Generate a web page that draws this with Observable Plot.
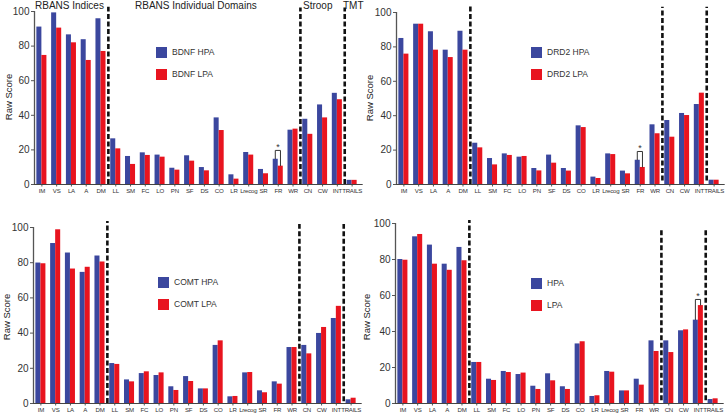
<!DOCTYPE html>
<html><head><meta charset="utf-8">
<script src="https://cdn.jsdelivr.net/npm/d3@7"></script>
<script src="https://cdn.jsdelivr.net/npm/@observablehq/plot@0.6"></script>
<style>
body{margin:0;background:#fff;}
#fig{position:relative;width:727px;height:415px;overflow:hidden;font-family:"Liberation Sans",Arial,Helvetica,sans-serif;color:#222;background:#fff;}
.panel{position:absolute;}
.title{position:absolute;font-size:10px;line-height:10px;white-space:nowrap;color:#222;}
.ylab{position:absolute;font-size:9.5px;line-height:10px;white-space:nowrap;color:#222;transform:translate(-50%,-50%) rotate(-90deg);}
.leg{position:absolute;font-size:8.5px;line-height:11px;white-space:nowrap;color:#333;}
.sw{display:inline-block;width:11px;height:11px;vertical-align:top;margin-right:5px;}
#fig g[aria-label="x-axis tick label"]{letter-spacing:-0.25px;}
</style></head>
<body>
<div id="fig"></div>
<script>
// ---------- data ----------
const cats = ["IM","VS","LA","A","DM","LL","SM","FC","LO","PN","SF","DS","CO","LR","Lrecog","SR","FR","WR","CN","CW","INT","TRAILS"];

const bdnfHPA = [91, 99.2, 86.5, 83.7, 95.8, 26.4, 16.2, 18.3, 17, 9.4, 16.6, 9.8, 38.5, 5.6, 18.5, 8.7, 14.6, 31.4, 37.7, 46, 52.7, 2.4];
const bdnfLPA = [74.6, 90.4, 81.9, 71.7, 76.9, 20.6, 11.6, 16.8, 15.8, 8.3, 13.5, 7.9, 31.2, 3.1, 17, 6.2, 10.6, 32, 29, 38.5, 49, 2.4];

const drd2HPA = [84.9, 93.2, 88.8, 78.1, 89.1, 24, 15.1, 17.8, 15.9, 9.3, 17.1, 9.3, 34.1, 4.3, 17.8, 7.8, 14.1, 34.7, 37.2, 41.3, 46.5, 2.5];
const drd2LPA = [75.8, 93.2, 78.1, 73.8, 78.1, 21.3, 11.4, 16.9, 16.3, 7.9, 12.4, 7.8, 33.1, 3.5, 17.4, 6.2, 9.9, 29.5, 27.5, 40.1, 53.1, 2.5];

const comtHPA = [79.8, 90.9, 85.5, 74.5, 83.8, 22.7, 13.4, 17, 15.9, 9.5, 15.3, 8.3, 33, 3.8, 17.4, 7.2, 12.3, 31.8, 33, 39.8, 48.3, 2.1];
const comtLPA = [79.4, 98.7, 76.4, 77.4, 80.4, 22.2, 12.3, 18, 17.4, 7.4, 12.5, 8.3, 35.6, 4, 17.6, 6.1, 11, 31.8, 28.2, 43.2, 55.2, 3];

const allHPA = [80, 92.6, 88, 77.4, 86.7, 22.8, 13.5, 17.8, 16.1, 9.6, 16.5, 9.3, 33.1, 3.9, 17.8, 7, 13.5, 34.8, 34.8, 40.4, 46.3, 2.2];
const allLPA = [79.6, 93.9, 77.4, 74, 79.3, 22.8, 12.8, 17.2, 16.9, 7.8, 12.6, 7.8, 34.3, 4.3, 17.4, 7, 10.2, 28.9, 28.3, 40.9, 54.4, 2.6];

const legendLabels = [["BDNF HPA","BDNF LPA"],["DRD2 HPA","DRD2 LPA"],["COMT HPA","COMT LPA"],["HPA","LPA"]];
const groupTitles = ["RBANS Indices","RBANS Individual Domains","Stroop","TMT"];
const dividerAfter = ["DM","WR","INT"];
const yTicks = [0,20,40,60,80,100];
const yLabel = "Raw Score";
// significance brackets: category and bracket height
const sigCats = [["FR"],["FR"],[],["INT"]];
const sigTops = [[19.7],[19.2],[],[57.8]];

// ---------- style / layout ----------
const BLUE = "#3b479e", RED = "#e8141f";
const panels = [
  {hpa: bdnfHPA, lpa: bdnfLPA, left: 0,   top: 0,   h: 207, mt: 11, mb: 23, divTop:[102.5,102,102], divBot:[0,0,0], legL:156, legT:47, labX:8.5, labY:97},
  {hpa: drd2HPA, lpa: drd2LPA, left: 362, top: 0,   h: 207, mt: 12, mb: 23, divTop:[104,103,103], divBot:[0,2,2], legL:169, legT:47, labX:370, labY:98},
  {hpa: comtHPA, lpa: comtLPA, left: -1,  top: 207, h: 208, mt: 20, mb: 12, divTop:[103.4,101.7,101.7], divBot:[0,1,1], legL:159, legT:70, labX:7, labY:317},
  {hpa: allHPA,  lpa: allLPA,  left: 361, top: 207, h: 208, mt: 16, mb: 12, divTop:[101.7,96.7,96.7], divBot:[0,1.5,1.5], legL:170, legT:71, labX:367, labY:317}
];
const W = 364, BW = 0.34;

const fig = document.getElementById("fig");

panels.forEach((p, k) => {
  const rows = cats.map((c, i) => ({i, cat: c, hpa: p.hpa[i], lpa: p.lpa[i]}));
  const dividers = dividerAfter.map((c, j) => ({pos: cats.indexOf(c) + 0.5, top: p.divTop[j], bot: p.divBot[j]}));
  const sigs = sigCats[k].map((c, j) => {
    const i = cats.indexOf(c);
    return {i, top: sigTops[k][j], hpa: p.hpa[i], lpa: p.lpa[i]};
  });
  const bracketPts = sigs.flatMap((s, n) => [
    {n, x: s.i - 0.2, y: s.hpa + 0.3}, {n, x: s.i - 0.2, y: s.top},
    {n, x: s.i + 0.15, y: s.top}, {n, x: s.i + 0.15, y: s.lpa + 0.3}
  ]);

  const chart = Plot.plot({
    width: W, height: p.h,
    marginLeft: 34, marginRight: 5, marginTop: p.mt, marginBottom: p.mb,
    x: {domain: [-0.5, 21.5], axis: null},
    y: {domain: [0, 100], axis: null},
    style: {fontFamily: "'Liberation Sans', Arial, Helvetica, sans-serif", color: "#333", background: "transparent", overflow: "visible"},
    marks: [
      Plot.axisY(yTicks, {tickSize: 3, tickPadding: 2, fontSize: 10, label: null, stroke: "#555"}),
      Plot.axisX(d3.range(cats.length), {tickFormat: i => cats[i], tickSize: 2.5, tickPadding: 1.5, fontSize: 6.1, label: null, stroke: "#555"}),
      Plot.rectY(rows, {x1: d => d.i - BW, x2: d => d.i, y: "hpa", fill: BLUE}),
      Plot.rectY(rows, {x1: d => d.i, x2: d => d.i + BW, y: "lpa", fill: RED}),
      Plot.ruleX([-0.5], {y1: 0, y2: 100, stroke: "#555", strokeWidth: 1.3}),
      Plot.ruleY([0], {x1: -0.5, x2: 21.75, stroke: "#444", strokeWidth: 1}),
      Plot.ruleX(dividers, {x: "pos", y1: "bot", y2: "top", stroke: "#111", strokeWidth: 2.6, strokeDasharray: "5,2.5"}),
      Plot.line(bracketPts, {x: "x", y: "y", z: "n", stroke: "#333", strokeWidth: 1}),
      Plot.text(sigs, {x: d => d.i - 0.02, y: "top", text: () => "*", dy: -3.5, fontSize: 9, fill: "#333"})
    ]
  });
  const div = document.createElement("div");
  div.className = "panel";
  div.style.left = p.left + "px";
  div.style.top = p.top + "px";
  div.appendChild(chart);
  fig.appendChild(div);

  // y label
  const yl = document.createElement("div");
  yl.className = "ylab";
  yl.textContent = yLabel;
  yl.style.left = p.labX + "px";
  yl.style.top = p.labY + "px";
  fig.appendChild(yl);

  // legend
  [BLUE, RED].forEach((col, j) => {
    const lg = document.createElement("div");
    lg.className = "leg";
    lg.style.left = (p.left + p.legL) + "px";
    lg.style.top = (p.top + p.legT + j * 21.5) + "px";
    lg.innerHTML = `<span class="sw" style="background:${col}"></span>${legendLabels[k][j]}`;
    fig.appendChild(lg);
  });
});

// group titles above the first panel
const titleX = [35, 135, 303, 343];
groupTitles.forEach((t, j) => {
  const d = document.createElement("div");
  d.className = "title";
  d.textContent = t;
  d.style.left = titleX[j] + "px";
  d.style.top = "1px";
  fig.appendChild(d);
});
</script>
</body></html>
